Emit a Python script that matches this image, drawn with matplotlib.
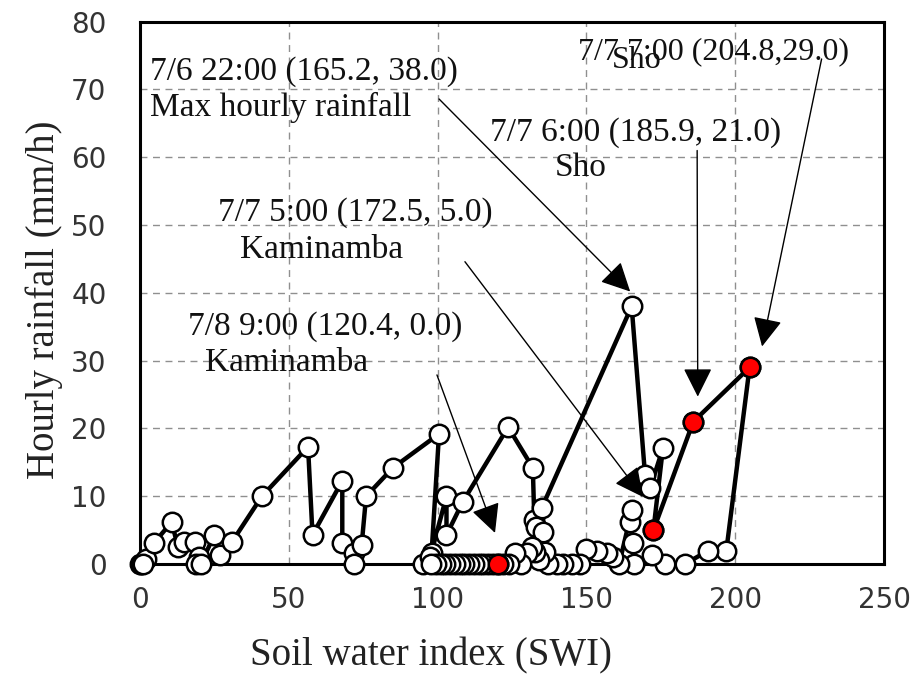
import matplotlib
matplotlib.use("Agg")
import matplotlib.pyplot as plt
from matplotlib.patches import ArrowStyle


# hourly series, soil water index vs hourly rainfall, in time order
SWI = [0, 0.5, 2, 1, 4.7, 10.7, 12.8, 15, 18.5, 20, 19, 20.5, 25, 27, 31,
       41, 56.5, 58, 68, 68, 72, 72, 74.5, 76, 85, 100.5, 98, 95, 97.5,
       103, 103, 108.5, 123.7, 132, 132.5, 133, 135.5, 135, 165.2, 169.7,
       171.4, 175.7, 172.5, 185.9, 204.8, 197, 191, 183, 176.4, 172, 166,
       165.7, 164.6, 165.3, 161, 159, 157, 153.6, 150, 148, 145, 142, 140,
       137, 136, 134, 132.7, 131.7, 130, 128, 126, 124, 122, 120.4, 118.6,
       117, 115.4, 113.8, 112.2, 110.6, 109, 107.4, 105.8, 104.2, 102.6,
       101, 99.4, 97.8]
RAIN = [0, 0, 0.8, 0, 3.1, 6.2, 2.5, 3.3, 3.3, 1.0, 0, 0, 4.3, 1.3, 3.3,
        10, 17.3, 4.3, 12.3, 3.1, 1.6, 0, 2.8, 10, 14.2, 19.2, 1.7, 0, 1.0,
        10, 4.3, 9.2, 20.2, 14.2, 6.5, 5.5, 4.7, 8.3, 38.0, 13.1,
        11.2, 17.1, 5.0, 21.0, 29.0, 2.0, 2.0, 0, 0, 1.3, 0,
        3.1, 6.2, 8.0, 0, 1.0, 1.6, 2.0, 2.3, 0, 0, 0, 0,
        0, 1.8, 0.6, 1.8, 2.5, 1.6, 0, 1.6, 0, 0, 0, 0,
        0, 0, 0, 0, 0, 0, 0, 0, 0, 0,
        0, 0, 0]

# hours picked out in red
EVENT_SWI = [120.4, 172.5, 185.9, 204.8]
EVENT_RAIN = [0.0, 5.0, 21.0, 29.0]

X_TICKS = [0, 50, 100, 150, 200, 250]
Y_TICKS = [0, 10, 20, 30, 40, 50, 60, 70, 80]

NOTES = ["7/6 22:00 (165.2, 38.0)", "Max hourly rainfall",
         "7/7 7:00 (204.8,29.0)", "Sho",
         "7/7 6:00 (185.9, 21.0)", "Sho",
         "7/7 5:00 (172.5, 5.0)", "Kaminamba",
         "7/8 9:00 (120.4, 0.0)", "Kaminamba"]

fig = plt.figure(figsize=(9.2, 6.78), dpi=100)
ax = fig.add_axes([0.152, 0.168, 0.809, 0.8])

ax.plot(SWI, RAIN, color="black", lw=3.2, marker="o", ms=14,
        mfc="white", mec="black", mew=1.8, clip_on=False, zorder=3)
ax.plot(EVENT_SWI, EVENT_RAIN, ls="none", marker="o", ms=14,
        mfc="#ff0000", mec="black", mew=1.8, clip_on=False, zorder=4)

ax.set_xlim(0, 250)
ax.set_ylim(0, 80)
ax.set_xticks(X_TICKS)
ax.set_yticks(Y_TICKS)
ax.tick_params(length=0, labelsize=20, labelcolor="#333333")
ax.tick_params(axis="x", pad=16)
ax.tick_params(axis="y", pad=24)
for lab in ax.get_xticklabels() + ax.get_yticklabels():
    lab.set_family("DejaVu Sans")

ax.grid(True, ls=(0, (5, 4)), color="#8f8f8f", lw=1)
ax.set_axisbelow(True)
for sp in ax.spines.values():
    sp.set_linewidth(2.2)
    sp.set_color("black")
    sp.set_zorder(2)

serif = "Liberation Serif"
ax.set_xlabel("Soil water index (SWI)", family=serif, fontsize=28,
              color="#222222", va="center")
ax.xaxis.set_label_coords(0.391, -0.17)
ax.set_ylabel("Hourly rainfall (mm/h)", family=serif, fontsize=28,
              color="#222222", va="center")
ax.yaxis.set_label_coords(-0.128, 0.487)

# note text (left edge, centre line, size) in data units
note_pos = [(3.4, 72.6, 24), (3.4, 67.3, 24),
            (147.2, 75.6, 23), (158.6, 74.3, 23),
            (117.6, 63.7, 24), (139.4, 58.5, 24),
            (26.2, 51.8, 24), (33.6, 46.4, 24),
            (16.1, 35.0, 24), (21.8, 29.7, 24)]
for txt, (x, y, size) in zip(NOTES, note_pos):
    ax.text(x, y, txt, family=serif, fontsize=size, color="#111111",
            ha="left", va="center", zorder=5)

# pointer arrows: tail -> head
head = ArrowStyle("-|>", head_length=0.9, head_width=0.45)
arrows = [((100.5, 68.6), (164.7, 40.2)),
          ((229.0, 74.5), (209.0, 32.1)),
          ((187.2, 61.0), (187.4, 24.7)),
          ((109.2, 44.6), (169.0, 9.9)),
          ((99.8, 27.9), (119.3, 4.6))]
for tail, tip in arrows:
    ax.annotate("", xy=tip, xytext=tail,
                arrowprops=dict(arrowstyle=head, mutation_scale=20,
                                color="black", lw=1.0, shrinkA=0, shrinkB=0),
                zorder=5)

fig.savefig("out.png", dpi=100)
